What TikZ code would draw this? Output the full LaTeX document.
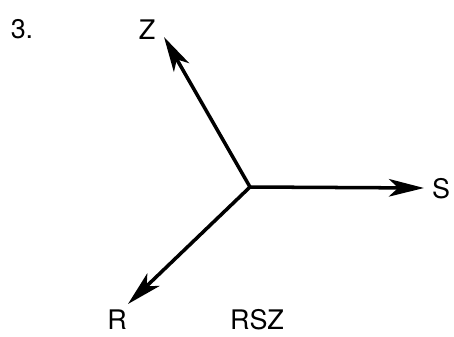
\documentclass[tikz,border=0pt]{standalone}
\usepackage{fontspec}
\setmainfont{TeX Gyre Heros}
\usetikzlibrary{arrows.meta, positioning}

\begin{document}
\begin{tikzpicture}[
  x=0.03cm, y=-0.03cm,
  axis/.style={line width=3pt, -{Stealth[length=30pt, width=15pt, inset=8pt]}},
  lbl/.style={font=\fontsize{23}{27}\selectfont, inner sep=0pt}
  ]
  \useasboundingbox (0,0) rectangle (454,336);

  % origin and arrow tips
  \coordinate (o) at (250,187);
  \coordinate (ztip) at (164,37);
  \coordinate (stip) at (424,188);
  \coordinate (rtip) at (128,304);

  % labels
  \node[lbl] (num) at (22,29) {3.};
  \node[lbl] (zl) at (147,30) {Z};
  \node[lbl] (sl) at (441,189) {S};
  \node[lbl] (rl) at (117,320) {R};
  \node[lbl] (name) at (257,320) {RSZ};

  % axes
  \draw[axis] (o) -- (ztip);
  \draw[axis] (o) -- (stip);
  \draw[axis] (o) -- (rtip);

\end{tikzpicture}
\end{document}
